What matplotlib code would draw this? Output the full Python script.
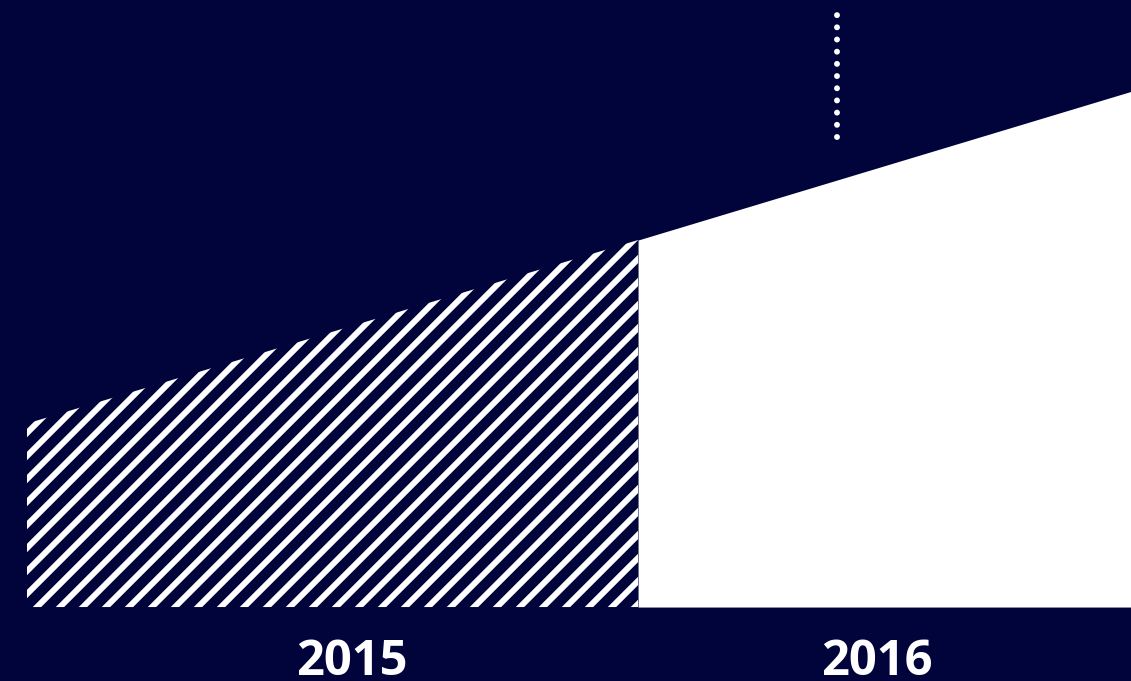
import matplotlib
matplotlib.use('Agg')
from matplotlib import pyplot as plt

# months from start of 2015, and the trend value at each point
x_2015 = [0, 12]
y_2015 = [100, 200]
x_2016 = [12, 21.68]
y_2016 = [200, 281]

# dotted marker inside 2016
marker_x = 15.9
marker_lo = 256
marker_hi = 323.3

labels = ['2015', '2016']
label_x = [6.38, 16.68]

navy = '#00043a'
DPI = 69  # hatch spacing follows dpi, 69 gives ~23px stripes
plt.rcParams['hatch.linewidth'] = 6.2

fig = plt.figure(figsize=(1131 / DPI, 681 / DPI), dpi=DPI, facecolor=navy)
ax = fig.add_axes([0, 0, 1, 1])
ax.set_facecolor(navy)

# 2015: hatched area
ax.fill_between(x_2015, 0, y_2015, facecolor=navy, edgecolor='white',
                linewidth=0, hatch='/')
# 2016: solid white area
ax.fill_between(x_2016, 0, y_2016, facecolor='white', edgecolor='white',
                linewidth=0)

# dotted vertical line
ax.plot([marker_x, marker_x], [marker_lo, marker_hi], color='white',
        linewidth=6.2, linestyle=(0, (0.001, 2.05)), dash_capstyle='round')

for lx, lab in zip(label_x, labels):
    ax.text(lx, -37.3, lab, color='white', ha='center', va='baseline',
            fontsize=51, fontweight='bold',
            family=['Open Sans', 'DejaVu Sans'])

ax.set_xlim(-0.53, 21.68)
ax.set_ylim(-40.3, 330.8)
ax.axis('off')

fig.savefig('out.png', dpi=DPI, facecolor=navy)
